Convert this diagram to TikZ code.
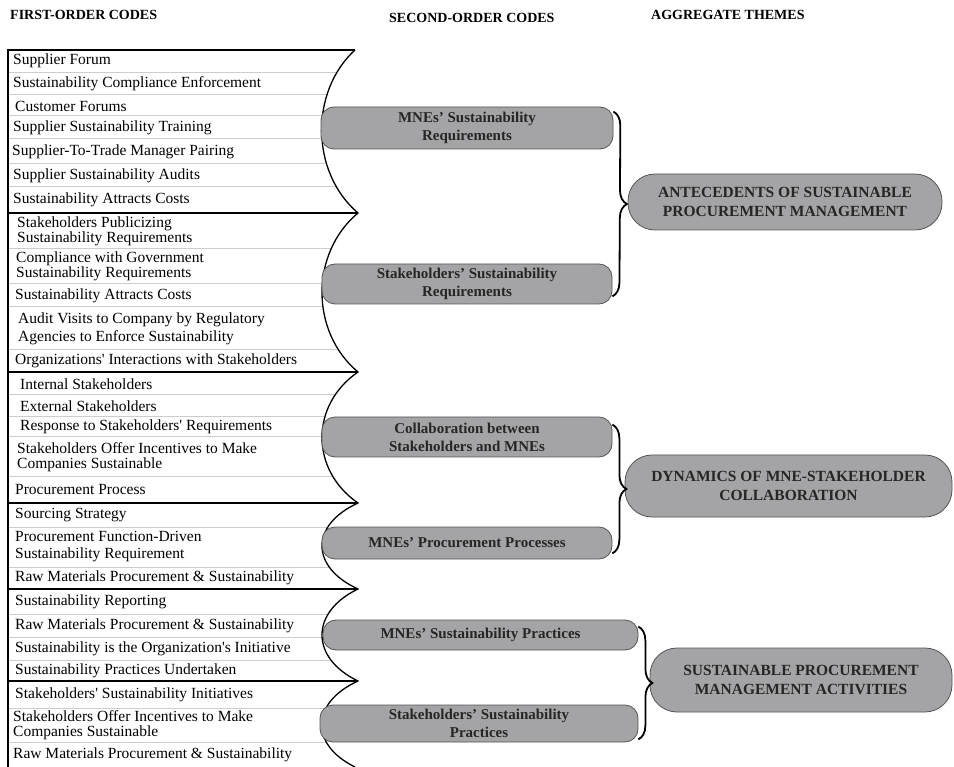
\documentclass[tikz,border=0pt]{standalone}
\usepackage{fontspec}
\setmainfont{Liberation Serif}
\usetikzlibrary{calc,decorations.pathreplacing}

\definecolor{boxgray}{RGB}{164,164,166}
\definecolor{edgegray}{RGB}{85,85,85}
\definecolor{rulegray}{RGB}{205,205,205}

\newcommand{\ap}{\textquotesingle}
% right edge of the first-order column
\newcommand{\rimcurve}{(355,50)
  .. controls (310,91) and (310,172) .. (358,213)
  .. controls (310,253) and (310,332) .. (358,372)
  .. controls (310,405) and (310,470) .. (358,503)
  .. controls (310,525) and (310,567) .. (358,589)
  .. controls (310,612) and (310,658) .. (358,681)
  .. controls (310,703) and (310,745) .. (355,767)}

\begin{document}
\begin{tikzpicture}[
    x=1pt, y=-1pt,
    code/.style={anchor=west, inner sep=0pt, align=left,
        font=\fontsize{15.5}{15}\selectfont},
    head/.style={anchor=west, inner sep=0pt,
        font=\fontsize{14}{14}\selectfont\bfseries},
    secbox/.style={draw=edgegray, line width=0.8pt, fill=boxgray,
        rounded corners=13pt, align=center, inner sep=0pt, text=black!85,
        font=\fontsize{15}{18}\selectfont\bfseries},
    thmbox/.style={secbox, rounded corners=27pt,
        font=\fontsize{15.5}{19}\selectfont\bfseries},
    rowline/.style={rulegray, line width=1pt},
    grpline/.style={black, line width=1.4pt},
    rim/.style={black, line width=1.3pt},
    thmbrace/.style={decorate, decoration={brace, amplitude=14pt},
        line width=1.8pt},
]
\useasboundingbox (0,0) rectangle (954,767);

% Headers
\node[head] (h1) at (10,15) {FIRST-ORDER CODES};
\node[head] (h2) at (389,18) {SECOND-ORDER CODES};
\node[head] (h3) at (651,15) {AGGREGATE THEMES};

% Row rules
\begin{scope}
\clip \rimcurve -- (8,767) -- (8,50) -- cycle;
\draw[rowline] (8,73) -- (360,73) (8,95) -- (360,95) (8,116) -- (360,116)
    (8,139) -- (360,139) (8,164) -- (360,164) (8,187) -- (360,187)
    (8,249) -- (360,249) (8,284) -- (360,284) (8,307) -- (360,307)
    (8,350) -- (360,350) (8,395) -- (360,395) (8,417) -- (360,417)
    (8,437) -- (360,437) (8,476) -- (360,476) (8,527) -- (360,527)
    (8,567) -- (360,567) (8,614) -- (360,614) (8,637) -- (360,637)
    (8,660) -- (360,660) (8,708) -- (360,708) (8,742) -- (360,742);
\end{scope}

% Column frame
\draw[rim] \rimcurve;
\draw[rim] (355,50) -- (8,50) -- (8,767);
\draw[grpline] (8,213) -- (358,213) (8,372) -- (358,372) (8,503) -- (358,503)
    (8,589) -- (358,589) (8,681) -- (358,681);

% First-order codes
\node[code] (sf) at (13,61) {Supplier Forum};
\node[code] (sce) at (13,84) {Sustainability Compliance Enforcement};
\node[code] (cf) at (15,106) {Customer Forums};
\node[code] (sst) at (13,128) {Supplier Sustainability Training};
\node[code] (stm) at (12,152) {Supplier-To-Trade Manager Pairing};
\node[code] (ssa) at (13,176) {Supplier Sustainability Audits};
\node[code] (sac1) at (13,200) {Sustainability Attracts Costs};

\node[code] (spsr) at (17,231) {Stakeholders Publicizing\\Sustainability Requirements};
\node[code] (cgsr) at (16,266.5) {Compliance with Government\\Sustainability Requirements};
\node[code] (sac2) at (15,296) {Sustainability Attracts Costs};
\node[code] (avra) at (18,329) {Audit Visits to Company by Regulatory\\[3pt]Agencies to Enforce Sustainability};
\node[code] (ois) at (15,361) {Organizations\ap{} Interactions with Stakeholders};

\node[code] (inst) at (20,384) {Internal Stakeholders};
\node[code] (exst) at (20,406) {External Stakeholders};
\node[code] (rsr) at (20,427) {Response to Stakeholders\ap{} Requirements};
\node[code] (soi1) at (17,457) {Stakeholders Offer Incentives to Make\\Companies Sustainable};
\node[code] (pp) at (15,490) {Procurement Process};

\node[code] (ss) at (15,515) {Sourcing Strategy};
\node[code] (pfd) at (15,547) {Procurement Function-Driven\\[2pt]Sustainability Requirement};
\node[code] (rmp1) at (15,578) {Raw Materials Procurement \& Sustainability};

\node[code] (sr) at (15,602) {Sustainability Reporting};
\node[code] (rmp2) at (15,625.5) {Raw Materials Procurement \& Sustainability};
\node[code] (sioi) at (15,648.5) {Sustainability is the Organization\ap{}s Initiative};
\node[code] (spu) at (15,670.5) {Sustainability Practices Undertaken};

\node[code] (ssi) at (15,695) {Stakeholders\ap{} Sustainability Initiatives};
\node[code] (soi2) at (13,725) {Stakeholders Offer Incentives to Make\\[-0.5pt]Companies Sustainable};
\node[code] (rmp3) at (13,755) {Raw Materials Procurement \& Sustainability};

% Second-order codes
\node[secbox, minimum width=292pt, minimum height=42pt] (mreq) at (467,128) {MNEs’ Sustainability\\Requirements};
\node[secbox, minimum width=290pt, minimum height=40pt] (sreq) at (467,284) {Stakeholders’ Sustainability\\Requirements};
\node[secbox, minimum width=290pt, minimum height=40pt] (collab) at (467,437) {Collaboration between\\Stakeholders and MNEs};
\node[secbox, minimum width=290pt, minimum height=32pt] (mproc) at (467,543) {MNEs’ Procurement Processes};
\node[secbox, minimum width=315pt, minimum height=30pt] (mprac) at (480.5,635) {MNEs’ Sustainability Practices};
\node[secbox, minimum width=318pt, minimum height=37pt] (sprac) at (479,723.5) {Stakeholders’ Sustainability\\Practices};

% Aggregate themes
\node[thmbox, minimum width=314pt, minimum height=56pt] (ante) at (785,202) {ANTECEDENTS OF SUSTAINABLE\\PROCUREMENT MANAGEMENT};
\node[thmbox, minimum width=327pt, minimum height=62pt] (dyn) at (788.5,486) {DYNAMICS OF MNE-STAKEHOLDER\\COLLABORATION};
\node[thmbox, minimum width=302pt, minimum height=64pt] (spm) at (801,680) {SUSTAINABLE PROCUREMENT\\MANAGEMENT ACTIVITIES};

% Braces to themes
\draw[thmbrace] ($(mreq.north east)+(0,5)$) -- ($(sreq.south east)+(0,-8)$);
\draw[thmbrace] ($(collab.north east)+(0,8)$) -- ($(mproc.south east)+(0,-6)$);
\draw[thmbrace] ($(mprac.north east)+(0,7)$) -- ($(sprac.south east)+(0,-3)$);

\end{tikzpicture}
\end{document}
